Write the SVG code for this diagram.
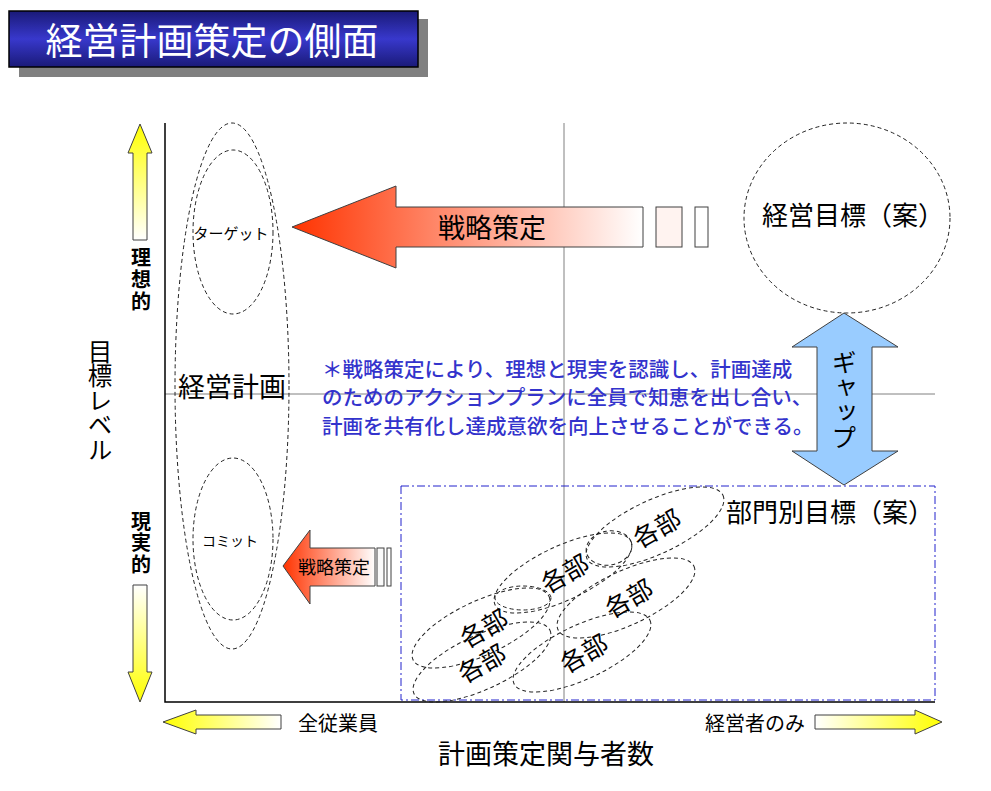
<svg xmlns="http://www.w3.org/2000/svg" width="991" height="791" viewBox="0 0 991 791">
<defs>
  <linearGradient id="gTitle" x1="0" y1="0" x2="0" y2="1">
    <stop offset="0" stop-color="#1a1a78"/>
    <stop offset="0.5" stop-color="#3838cc"/>
    <stop offset="1" stop-color="#1a1a78"/>
  </linearGradient>
  <linearGradient id="gRed" x1="0" y1="0" x2="1" y2="0">
    <stop offset="0" stop-color="#ff3300"/>
    <stop offset="1" stop-color="#ffffff"/>
  </linearGradient>
  <linearGradient id="gYUp" x1="0" y1="0" x2="0" y2="1">
    <stop offset="0" stop-color="#ffff00"/>
    <stop offset="1" stop-color="#ffffff"/>
  </linearGradient>
  <linearGradient id="gYDown" x1="0" y1="0" x2="0" y2="1">
    <stop offset="0" stop-color="#ffffff"/>
    <stop offset="1" stop-color="#ffff00"/>
  </linearGradient>
  <linearGradient id="gYLeft" x1="0" y1="0" x2="1" y2="0">
    <stop offset="0" stop-color="#ffff00"/>
    <stop offset="1" stop-color="#ffffff"/>
  </linearGradient>
  <linearGradient id="gYRight" x1="0" y1="0" x2="1" y2="0">
    <stop offset="0" stop-color="#ffffff"/>
    <stop offset="1" stop-color="#ffff00"/>
  </linearGradient>
</defs>
<style>
  text { font-family: "Noto Sans CJK JP", "Noto Sans", sans-serif; fill: #000; }
  .c { text-anchor: middle; dominant-baseline: central; }
  .vt { writing-mode: vertical-rl; }
  .dash { fill: none; stroke: #222; stroke-width: 1; stroke-dasharray: 4 3; }
  .arrow { stroke: #404040; stroke-width: 1; }
  .cross { stroke: #808080; stroke-width: 1; fill: none; }
  .axis { stroke: #000; stroke-width: 1.5; fill: none; }
  .blue { fill: #3333cc; font-size: 20.5px; font-weight: 500; }
  .bu { font-size: 25px; }
</style>
<rect width="991" height="791" fill="#fff"/>

<g id="title">
  <rect x="19" y="19" width="409" height="58" fill="#808080"/>
  <rect x="9" y="11" width="409" height="56" fill="url(#gTitle)" stroke="#000" stroke-width="1.5"/>
  <text class="c" x="212" y="39" font-size="37" style="fill:#fff">経営計画策定の側面</text>
</g>

<g id="connectors">
  <line class="cross" x1="564" y1="123" x2="564" y2="702"/>
  <line class="cross" x1="165" y1="394" x2="935" y2="394"/>
  <polyline class="axis" points="165,123 165,702 935,702"/>
</g>

<g id="y-axis-labels">
  <polygon class="arrow" fill="url(#gYUp)" points="140,124 152,153 147,153 147,240 133,240 133,153 128,153"/>
  <text class="vt" x="141" y="247" font-size="20" font-weight="bold" letter-spacing="2">理想的</text>
  <text class="vt" x="141" y="511" font-size="20" font-weight="bold" letter-spacing="1.5">現実的</text>
  <polygon class="arrow" fill="url(#gYDown)" points="133,585 147,585 147,672 152,672 140,702 128,672 133,672"/>
  <text class="vt" x="100" y="339" font-size="24.5">目標レベル</text>
</g>

<g id="keiei-keikaku">
  <ellipse class="dash" cx="232" cy="386" rx="57" ry="263"/>
  <text class="c" x="232" y="385" font-size="27">経営計画</text>
</g>
<g id="target">
  <ellipse class="dash" cx="233" cy="232" rx="40" ry="82"/>
  <text class="c" x="231" y="232" font-size="15">ターゲット</text>
</g>
<g id="commit">
  <ellipse class="dash" cx="233" cy="539" rx="40" ry="81"/>
  <text class="c" x="230" y="540" font-size="14">コミット</text>
</g>

<g id="strategy-big">
  <polygon class="arrow" fill="url(#gRed)" points="292,227 396,186 396,207 643,207 643,247 396,247 396,268"/>
  <rect class="arrow" x="656" y="207" width="26" height="40" fill="#fff3f0"/>
  <rect class="arrow" x="695" y="207" width="13" height="40" fill="#ffffff"/>
  <text class="c" x="492" y="226" font-size="27">戦略策定</text>
</g>

<g id="strategy-small">
  <polygon class="arrow" fill="url(#gRed)" points="283,566 310,530 310,548 375,548 375,586 310,586 310,604"/>
  <rect class="arrow" x="377" y="548" width="7" height="38" fill="#fafafa"/>
  <rect class="arrow" x="387" y="548" width="4" height="38" fill="#fff"/>
  <text class="c" x="334" y="566" font-size="18">戦略策定</text>
</g>

<g id="keiei-mokuhyo">
  <ellipse class="dash" cx="847" cy="218" rx="103" ry="95"/>
  <text class="c" x="853" y="213" font-size="26">経営目標（案）</text>
</g>

<g id="gap">
  <polygon class="arrow" fill="#99ccff" points="844,313 898,347 872,347 872,451 898,451 844,485 792,451 817,451 817,347 792,347"/>
  <text class="vt" x="844" y="350" font-size="25">ギャップ</text>
</g>

<g id="note">
  <text class="blue" x="322" y="377">＊戦略策定により、理想と現実を認識し、計画達成</text>
  <text class="blue" x="322" y="405">のためのアクションプランに全員で知恵を出し合い、</text>
  <text class="blue" x="322" y="434">計画を共有化し達成意欲を向上させることができる。</text>
</g>

<g id="bumon">
  <rect x="401" y="486" width="534" height="214" fill="none" stroke="#2222cc" stroke-width="1" stroke-dasharray="8 3 2 3"/>
  <text class="c" x="830" y="510" font-size="26">部門別目標（案）</text>
</g>

<g id="kakubu">
  <ellipse class="dash" cx="655" cy="527" rx="75" ry="27" transform="rotate(-25 655 527)"/>
  <ellipse class="dash" cx="609" cy="548" rx="23" ry="17" transform="rotate(-10 609 548)"/>
  <ellipse class="dash" cx="563" cy="573" rx="75" ry="27" transform="rotate(-25 563 573)"/>
  <ellipse class="dash" cx="626" cy="598" rx="75" ry="27" transform="rotate(-25 626 598)"/>
  <ellipse class="dash" cx="523" cy="598" rx="28" ry="12"/>
  <ellipse class="dash" cx="481" cy="628" rx="75" ry="27" transform="rotate(-25 481 628)"/>
  <ellipse class="dash" cx="482" cy="662" rx="75" ry="27" transform="rotate(-25 482 662)"/>
  <ellipse class="dash" cx="582" cy="652" rx="75" ry="27" transform="rotate(-25 582 652)"/>
  <text class="c bu" x="656" y="527" transform="rotate(-30 656 527)">各部</text>
  <text class="c bu" x="564" y="572" transform="rotate(-30 564 572)">各部</text>
  <text class="c bu" x="628" y="597" transform="rotate(-30 628 597)">各部</text>
  <text class="c bu" x="483" y="627" transform="rotate(-30 483 627)">各部</text>
  <text class="c bu" x="481" y="662" transform="rotate(-30 481 662)">各部</text>
  <text class="c bu" x="583" y="652" transform="rotate(-30 583 652)">各部</text>
</g>

<g id="x-axis-labels">
  <polygon class="arrow" fill="url(#gYLeft)" points="163,722 196,710 196,715 281,715 281,729 196,729 196,734"/>
  <text class="c" x="338" y="722" font-size="20">全従業員</text>
  <text class="c" x="755" y="722" font-size="20">経営者のみ</text>
  <polygon class="arrow" fill="url(#gYRight)" points="815,715 915,715 915,710 942,722 915,734 915,729 815,729"/>
  <text class="c" x="546" y="752" font-size="27">計画策定関与者数</text>
</g>
</svg>
